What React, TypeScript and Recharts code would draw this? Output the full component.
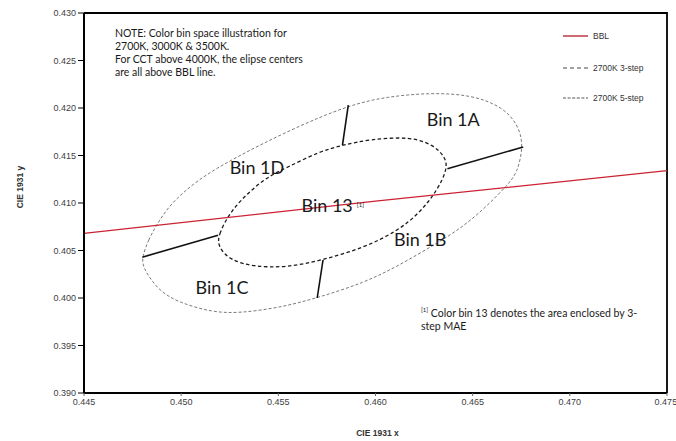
import {
  LineChart,
  Line,
  XAxis,
  YAxis,
  ReferenceDot,
  Legend,
} from "recharts";

// CIE 1931 chromaticity, 2700K colour bins
const xTicks = [0.445, 0.45, 0.455, 0.46, 0.465, 0.47, 0.475];
const yTicks = [0.39, 0.395, 0.4, 0.405, 0.41, 0.415, 0.42, 0.425, 0.43];

// top and right edges of the plot frame
const framePoints: [number, number][] = [
  [0.445, 0.43],
  [0.475, 0.43],
  [0.475, 0.39],
];

const bblPoints: [number, number][] = [
  [0.445, 0.4068],
  [0.46, 0.4102],
  [0.475, 0.4134],
];

const fiveStepPoints: [number, number][] = [
  [0.448, 0.4043],
  [0.4483, 0.4061],
  [0.4488, 0.4079],
  [0.4494, 0.4098],
  [0.4508, 0.4124],
  [0.4527, 0.4147],
  [0.4556, 0.4177],
  [0.4586, 0.4203],
  [0.4606, 0.4212],
  [0.4628, 0.4216],
  [0.4649, 0.4214],
  [0.4666, 0.4201],
  [0.4674, 0.418],
  [0.4676, 0.4159],
  [0.4673, 0.4132],
  [0.4668, 0.4119],
  [0.4657, 0.4096],
  [0.4645, 0.4075],
  [0.4632, 0.4058],
  [0.4611, 0.4033],
  [0.4594, 0.4016],
  [0.457, 0.4],
  [0.4551, 0.399],
  [0.453, 0.3984],
  [0.4516, 0.3985],
  [0.4499, 0.3995],
  [0.4488, 0.4008],
  [0.448, 0.4033],
];

const threeStepPoints: [number, number][] = [
  [0.4519, 0.4054],
  [0.4519, 0.4066],
  [0.4525, 0.409],
  [0.4534, 0.411],
  [0.4544, 0.4127],
  [0.4554, 0.4137],
  [0.4571, 0.4154],
  [0.4583, 0.4161],
  [0.4597, 0.4167],
  [0.4618, 0.417],
  [0.463, 0.4161],
  [0.4636, 0.4148],
  [0.4637, 0.4136],
  [0.4632, 0.4114],
  [0.4623, 0.409],
  [0.4611, 0.407],
  [0.4594, 0.4053],
  [0.4573, 0.404],
  [0.4554, 0.4032],
  [0.4537, 0.4033],
  [0.4525, 0.404],
];

// bin boundaries between the 3-step and 5-step ellipses
const dividers: [number, number][][] = [
  [[0.4583, 0.4161], [0.4586, 0.4203]],
  [[0.4637, 0.4136], [0.4676, 0.4159]],
  [[0.448, 0.4043], [0.4519, 0.4066]],
  [[0.457, 0.4], [0.4573, 0.404]],
];

const binNames = ["Bin 1A", "Bin 1D", "Bin 13", "Bin 1B", "Bin 1C"];
const binX = [0.464, 0.4539, 0.4578, 0.4623, 0.4521];
const binY = [0.4188, 0.4138, 0.4098, 0.4062, 0.4012];

const toRows = (pts: [number, number][]) => pts.map(([x, y]) => ({ x, y }));

const calibri = "Lato, 'Open Sans', sans-serif";
const arial = "'Liberation Sans', Arial, sans-serif";

function BinText(props: any) {
  const { cx, cy, name } = props;
  return (
    <text
      x={cx}
      y={cy}
      textAnchor="middle"
      dominantBaseline="central"
      fontFamily={calibri}
      fontSize={18}
      fill="#1a1a1a"
    >
      {name}
      {name === "Bin 13" ? (
        <tspan fontSize={6} dx={4} dy={-1}>
          [1]
        </tspan>
      ) : null}
    </text>
  );
}

function LegendBox() {
  return (
    <svg width={112} height={80}>
      <line x1={3} x2={28} y1={8} y2={8} stroke="#b01828" strokeWidth={1.3} />
      <text x={33} y={8} dominantBaseline="central" fontFamily={arial} fontSize={8.5} fill="#333">
        BBL
      </text>
      <line x1={3} x2={28} y1={40} y2={40} stroke="#444" strokeWidth={1} strokeDasharray="4 3" />
      <text x={33} y={40} dominantBaseline="central" fontFamily={arial} fontSize={8.5} fill="#333">
        2700K 3-step
      </text>
      <line x1={3} x2={28} y1={70} y2={70} stroke="#555" strokeWidth={1} strokeDasharray="3 1.6" />
      <text x={33} y={70} dominantBaseline="central" fontFamily={arial} fontSize={8.5} fill="#333">
        2700K 5-step
      </text>
    </svg>
  );
}

export default function App() {
  return (
    <div style={{ position: "relative", width: 676, height: 441 }}>
      <style>{"body{margin:0;overflow:hidden}"}</style>
      <LineChart
        width={676}
        height={441}
        margin={{ top: 13, right: 9, left: 0, bottom: 0 }}
      >
        <XAxis
          type="number"
          dataKey="x"
          domain={[0.445, 0.475]}
          ticks={xTicks}
          tickFormatter={(v: number) => v.toFixed(3)}
          height={48}
          tickSize={3}
          tickMargin={3}
          axisLine={{ stroke: "#000", strokeWidth: 2 }}
          tickLine={{ stroke: "#666" }}
          tick={{ fontSize: 9, fontFamily: arial, fill: "#404040" }}
          label={{
            content: (p: any) => (
              <text
                x={p.viewBox.x + p.viewBox.width / 2 + 2}
                y={433}
                textAnchor="middle"
                dominantBaseline="central"
                fontFamily={arial}
                fontSize={8.5}
                fontWeight="bold"
                fill="#333"
              >
                CIE 1931 x
              </text>
            ),
          }}
        />
        <YAxis
          type="number"
          dataKey="y"
          domain={[0.39, 0.43]}
          ticks={yTicks}
          tickFormatter={(v: number) => v.toFixed(3)}
          width={84}
          tickSize={6}
          tickMargin={2}
          axisLine={{ stroke: "#000", strokeWidth: 2 }}
          tickLine={{ stroke: "#000" }}
          tick={{ fontSize: 9, fontFamily: arial, fill: "#404040" }}
          label={{
            content: (p: any) => {
              const cy = p.viewBox.y + p.viewBox.height / 2 - 16;
              return (
                <text
                  x={20}
                  y={cy}
                  transform={`rotate(-90 20 ${cy})`}
                  textAnchor="middle"
                  dominantBaseline="central"
                  fontFamily={arial}
                  fontSize={8.5}
                  fontWeight="bold"
                  fill="#333"
                >
                  CIE 1931 y
                </text>
              );
            },
          }}
        />
        <Legend
          layout="vertical"
          align="center"
          verticalAlign="middle"
          wrapperStyle={{ top: 28, left: 560, width: 112, height: 80 }}
          content={() => <LegendBox />}
        />
        <Line
          data={toRows(framePoints)}
          dataKey="y"
          type="linear"
          stroke="#000"
          strokeWidth={1.8}
          dot={false}
          activeDot={false}
          legendType="none"
          isAnimationActive={false}
        />
        <Line
          data={toRows(fiveStepPoints)}
          dataKey="y"
          type="basisClosed"
          stroke="#7a7a7a"
          strokeWidth={1}
          strokeDasharray="3 2"
          dot={false}
          activeDot={false}
          isAnimationActive={false}
        />
        <Line
          data={toRows(threeStepPoints)}
          dataKey="y"
          type="basisClosed"
          stroke="#1a1a1a"
          strokeWidth={1.3}
          strokeDasharray="3.5 2.5"
          dot={false}
          activeDot={false}
          isAnimationActive={false}
        />
        {dividers.map((seg, i) => (
          <Line
            key={i}
            data={toRows(seg)}
            dataKey="y"
            type="linear"
            stroke="#111"
            strokeWidth={1.6}
            dot={false}
            activeDot={false}
            isAnimationActive={false}
          />
        ))}
        <Line
          data={toRows(bblPoints)}
          dataKey="y"
          type="linear"
          stroke="#cc2233"
          strokeWidth={1.2}
          dot={false}
          activeDot={false}
          isAnimationActive={false}
        />
        {binNames.map((name, i) => (
          <ReferenceDot
            key={name}
            x={binX[i]}
            y={binY[i]}
            r={1}
            shape={(p: any) => <BinText {...p} name={name} />}
          />
        ))}
      </LineChart>
      <div
        style={{
          position: "absolute",
          left: 115,
          top: 27,
          fontFamily: calibri,
          fontSize: 10.5,
          lineHeight: "13px",
          color: "#1a1a1a",
          whiteSpace: "nowrap",
        }}
      >
        NOTE: Color bin space illustration for
        <br />
        2700K, 3000K &amp; 3500K.
        <br />
        For CCT above 4000K, the elipse centers
        <br />
        are all above BBL line.
      </div>
      <div
        style={{
          position: "absolute",
          left: 421,
          top: 303,
          fontFamily: calibri,
          fontSize: 10.5,
          lineHeight: "13px",
          color: "#1a1a1a",
          whiteSpace: "nowrap",
        }}
      >
        <sup style={{ fontSize: 6 }}>[1]</sup> Color bin 13 denotes the area enclosed by 3-
        <br />
        step MAE
      </div>
    </div>
  );
}
